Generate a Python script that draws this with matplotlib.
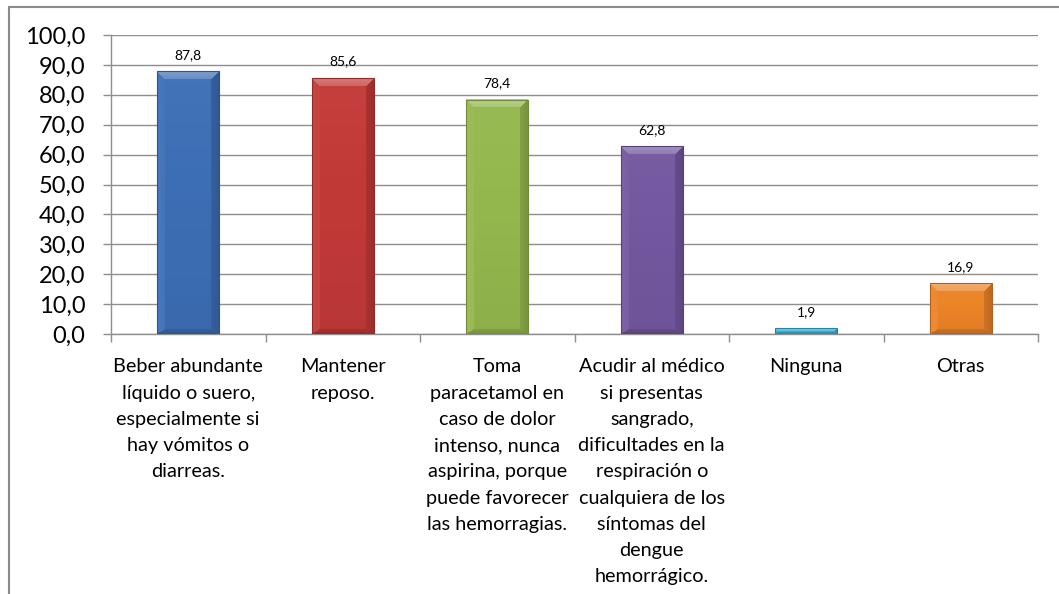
import numpy as np
import matplotlib
matplotlib.use("Agg")
import matplotlib.pyplot as plt
from matplotlib.colors import to_rgb
from matplotlib.patches import Rectangle
from matplotlib.ticker import FuncFormatter, MultipleLocator, FixedLocator

plt.rcParams['font.family'] = ['Lato', 'DejaVu Sans']

categories = [
    "Beber abundante\nlíquido o suero,\nespecialmente si\nhay vómitos o\ndiarreas.",
    "Mantener\nreposo.",
    "Toma\nparacetamol en\ncaso de dolor\nintenso, nunca\naspirina, porque\npuede favorecer\nlas hemorragias.",
    "Acudir al médico\nsi presentas\nsangrado,\ndificultades en la\nrespiración o\ncualquiera de los\nsíntomas del\ndengue\nhemorrágico.",
    "Ninguna",
    "Otras",
]
values = [87.8, 85.6, 78.4, 62.8, 1.9, 16.9]
colors = ["#3d6fb6", "#c23a38", "#95b84e", "#7458a0", "#3aaed3", "#ec8428"]

W, H = 1059, 594
fig = plt.figure(figsize=(W / 100, H / 100), dpi=100)
ax = fig.add_axes([111 / W, 1 - 334 / H, (1038 - 111) / W, (334 - 35) / H])

grid_col = "#8e8e8e"
x = np.arange(len(values))
bar_w = 0.40
ax.bar(x, values, width=bar_w, color=colors, zorder=2)

ax.set_xlim(-0.5, len(values) - 0.5)
ax.set_ylim(0, 100)
ax.yaxis.set_major_locator(MultipleLocator(10))
ax.yaxis.set_major_formatter(FuncFormatter(lambda v, p: f"{v:.1f}".replace(".", ",")))
ax.grid(axis="y", color=grid_col, linewidth=1.0, zorder=0)
ax.set_axisbelow(True)

for s in ["top", "right"]:
    ax.spines[s].set_visible(False)
for s in ["left", "bottom"]:
    ax.spines[s].set_color(grid_col)
    ax.spines[s].set_linewidth(1.0)

ax.tick_params(axis="y", length=6, width=1.0, color=grid_col, labelsize=17, pad=12.5, labelcolor="black")
ax.set_xticks(x)
ax.set_xticklabels(categories, fontsize=14.3, linespacing=1.66, va="top")
ax.tick_params(axis="x", which="major", length=0, pad=17.5)
ax.xaxis.set_minor_locator(FixedLocator(np.arange(-0.5, len(values), 1.0)))
ax.tick_params(axis="x", which="minor", length=6, width=1.0, color=grid_col)

# bevelled bar faces
fig.canvas.draw()
bevel = 8.5
for xi, v, c in zip(x, values, colors):
    x0, x1 = xi - bar_w / 2, xi + bar_w / 2
    (px0, py0), (px1, py1) = ax.transData.transform([(x0, 0), (x1, v)])
    wpx = max(int(round(px1 - px0)), 2)
    hpx = max(int(round(py1 - py0)), 2)
    base = np.array(to_rgb(c))
    u = (np.arange(wpx) + 0.5)[None, :]
    t = (np.arange(hpx) + 0.5)[:, None]
    dl = np.broadcast_to(u, (hpx, wpx))
    dr = np.broadcast_to(wpx - u, (hpx, wpx))
    dt = np.broadcast_to(t, (hpx, wpx))
    db = np.broadcast_to(hpx - t, (hpx, wpx)) * 1.6
    b = min(bevel, hpx / 2.2, wpx / 2.2)
    d = np.stack([dt, dl, dr, db])
    nearest = np.argmin(d, axis=0)
    mind = np.min(d, axis=0)
    shade = np.zeros((hpx, wpx))
    face_shade = [0.34, 0.06, -0.20, -0.22]
    for k, f in enumerate(face_shade):
        fade = 1.0 - 0.4 * (mind / b)
        shade = np.where((mind < b) & (nearest == k), f * fade, shade)
    inner = mind >= b
    shade = np.where(inner, 0.03 - 0.08 * (dt / hpx), shade)
    img = np.empty((hpx, wpx, 3))
    for ch in range(3):
        bc = base[ch]
        img[..., ch] = np.where(shade >= 0, bc + (1 - bc) * shade, bc * (1 + shade))
    ax.imshow(np.clip(img, 0, 1), extent=(x0, x1, 0, v), aspect="auto",
              origin="upper", zorder=3, interpolation="nearest")
    ax.add_patch(Rectangle((x0, 0), bar_w, v, fill=False,
                           edgecolor=base * 0.75, linewidth=0.8, zorder=4))
    ax.annotate(f"{v:.1f}".replace(".", ","), (xi, v), xytext=(0, 7.5),
                textcoords="offset points", ha="center", va="bottom",
                fontsize=10, zorder=5)

ax.set_xlim(-0.5, len(values) - 0.5)
ax.set_ylim(0, 100)

# chart frame
fig.add_artist(Rectangle((8.5 / W, -0.05), 1.2, 1 - 7 / H + 0.05,
                         transform=fig.transFigure, fill=False,
                         edgecolor="#8a8a8a", linewidth=1.5))

fig.savefig("out.png", dpi=100)
